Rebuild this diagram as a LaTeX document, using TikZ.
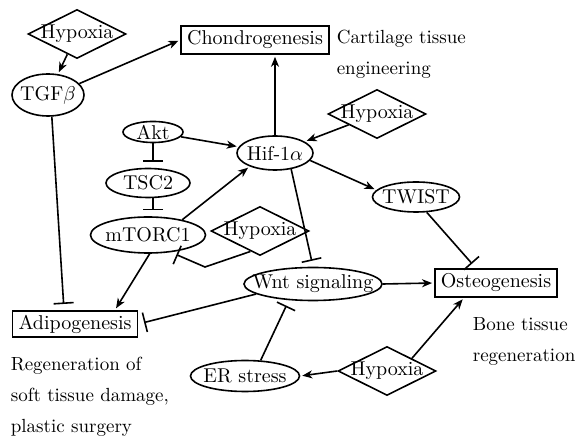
\documentclass[tikz,border=0pt]{standalone}
\usepackage{amsmath}
\usetikzlibrary{shapes.geometric,arrows.meta}

\begin{document}
\begin{tikzpicture}[x=0.5pt,y=-0.5pt,line width=0.8pt,
  oval/.style={ellipse,draw,inner xsep=-6pt,inner ysep=0pt},
  diam/.style={diamond,draw,aspect=2,inner sep=-2.5pt,minimum width=49pt,minimum height=24.5pt},
  box/.style={rectangle,draw,inner xsep=3pt,inner ysep=2pt,minimum height=14pt},
  note/.style={anchor=north west,inner sep=0pt,align=left,
    font=\fontsize{9.5}{15.5}\selectfont},
  act/.style={-{Stealth[length=5pt,width=4pt,inset=1.5pt]},shorten >=1pt},
  inh/.style={-{Bar[width=10pt]},shorten >=3pt}]

\useasboundingbox (0,0) rectangle (577,437);

% regulators
\node at (77,34) [diam] (hyptl) {Hypoxia};
\node at (48,95) [oval,minimum width=36pt,minimum height=21pt] (tgf) {TGF$\beta$};
\node at (153,132) [oval,minimum width=30pt,minimum height=10.5pt] (akt) {Akt};
\node at (148,183) [oval,minimum width=42pt,minimum height=14.5pt] (tsc) {TSC2};
\node at (148,235) [oval,minimum width=57.5pt,minimum height=18pt] (mtorc) {mTORC1};
\node at (275,153) [oval,minimum width=38pt,minimum height=17pt] (hif) {Hif-1$\alpha$};
\node at (377,114) [diam] (hypr) {Hypoxia};
\node at (260,231) [diam] (hypm) {Hypoxia};
\node at (416,197) [oval,minimum width=43.5pt,minimum height=15pt] (twist) {TWIST};
\node at (313,284) [oval,minimum width=69pt,minimum height=16.5pt] (wnt) {Wnt signaling};
\node at (245,376) [oval,minimum width=54.5pt,minimum height=15.5pt] (er) {ER stress};
\node at (387,371) [diam] (hypb) {Hypoxia};

% outcomes
\node at (255,40) [box] (chondro) {Chondrogenesis};
\node at (496,283) [box] (osteo) {Osteogenesis};
\node at (75,324) [box,minimum height=13pt] (adipo) {Adipogenesis};

\node at (336,29) [note] (cart) {Cartilage tissue\\engineering};
\node at (10,356) [note] (soft) {Regeneration of\\soft tissue damage,\\plastic surgery};
\node at (472,317) [note] (bone) {Bone tissue\\regeneration};

\coordinate (kink) at (205,267);

\draw[act] (hyptl) -- (tgf);
\draw[act] (tgf.20) -- (chondro.west);
\draw[inh] (tgf.-80) -- ([xshift=-5.5pt]adipo.north);
\draw[act] (akt) -- (hif);
\draw[inh] (akt.south) -- (akt.south |- tsc.north);
\draw[inh] (akt.south |- tsc.south) -- (akt.south |- mtorc.north);
\draw[act] (mtorc.24) -- (hif.-152);
\draw[act] (hif.north) -- (hif.north |- chondro.south);
\draw[act] (hypr) -- (hif);
\draw[act] (hif.-12) -- (twist.170);
\draw[inh] (hif.-45) -- (wnt.north);
\draw[inh] (hypm.-115) -- (kink) -- (mtorc.-37);
\draw[act] (mtorc.-85) -- ([xshift=20pt]adipo.north);
\draw[inh] (wnt.190) -- (adipo.east);
\draw[act] (wnt.east) -- (osteo.west);
\draw[inh] (twist.-55) -- ([xshift=-10pt]osteo.north);
\draw[inh] (er.45) -- (wnt.-146);
\draw[act] (hypb.west) -- (er.east);
\draw[act] (hypb.north east) -- ([xshift=-16pt]osteo.south);
\end{tikzpicture}
\end{document}
